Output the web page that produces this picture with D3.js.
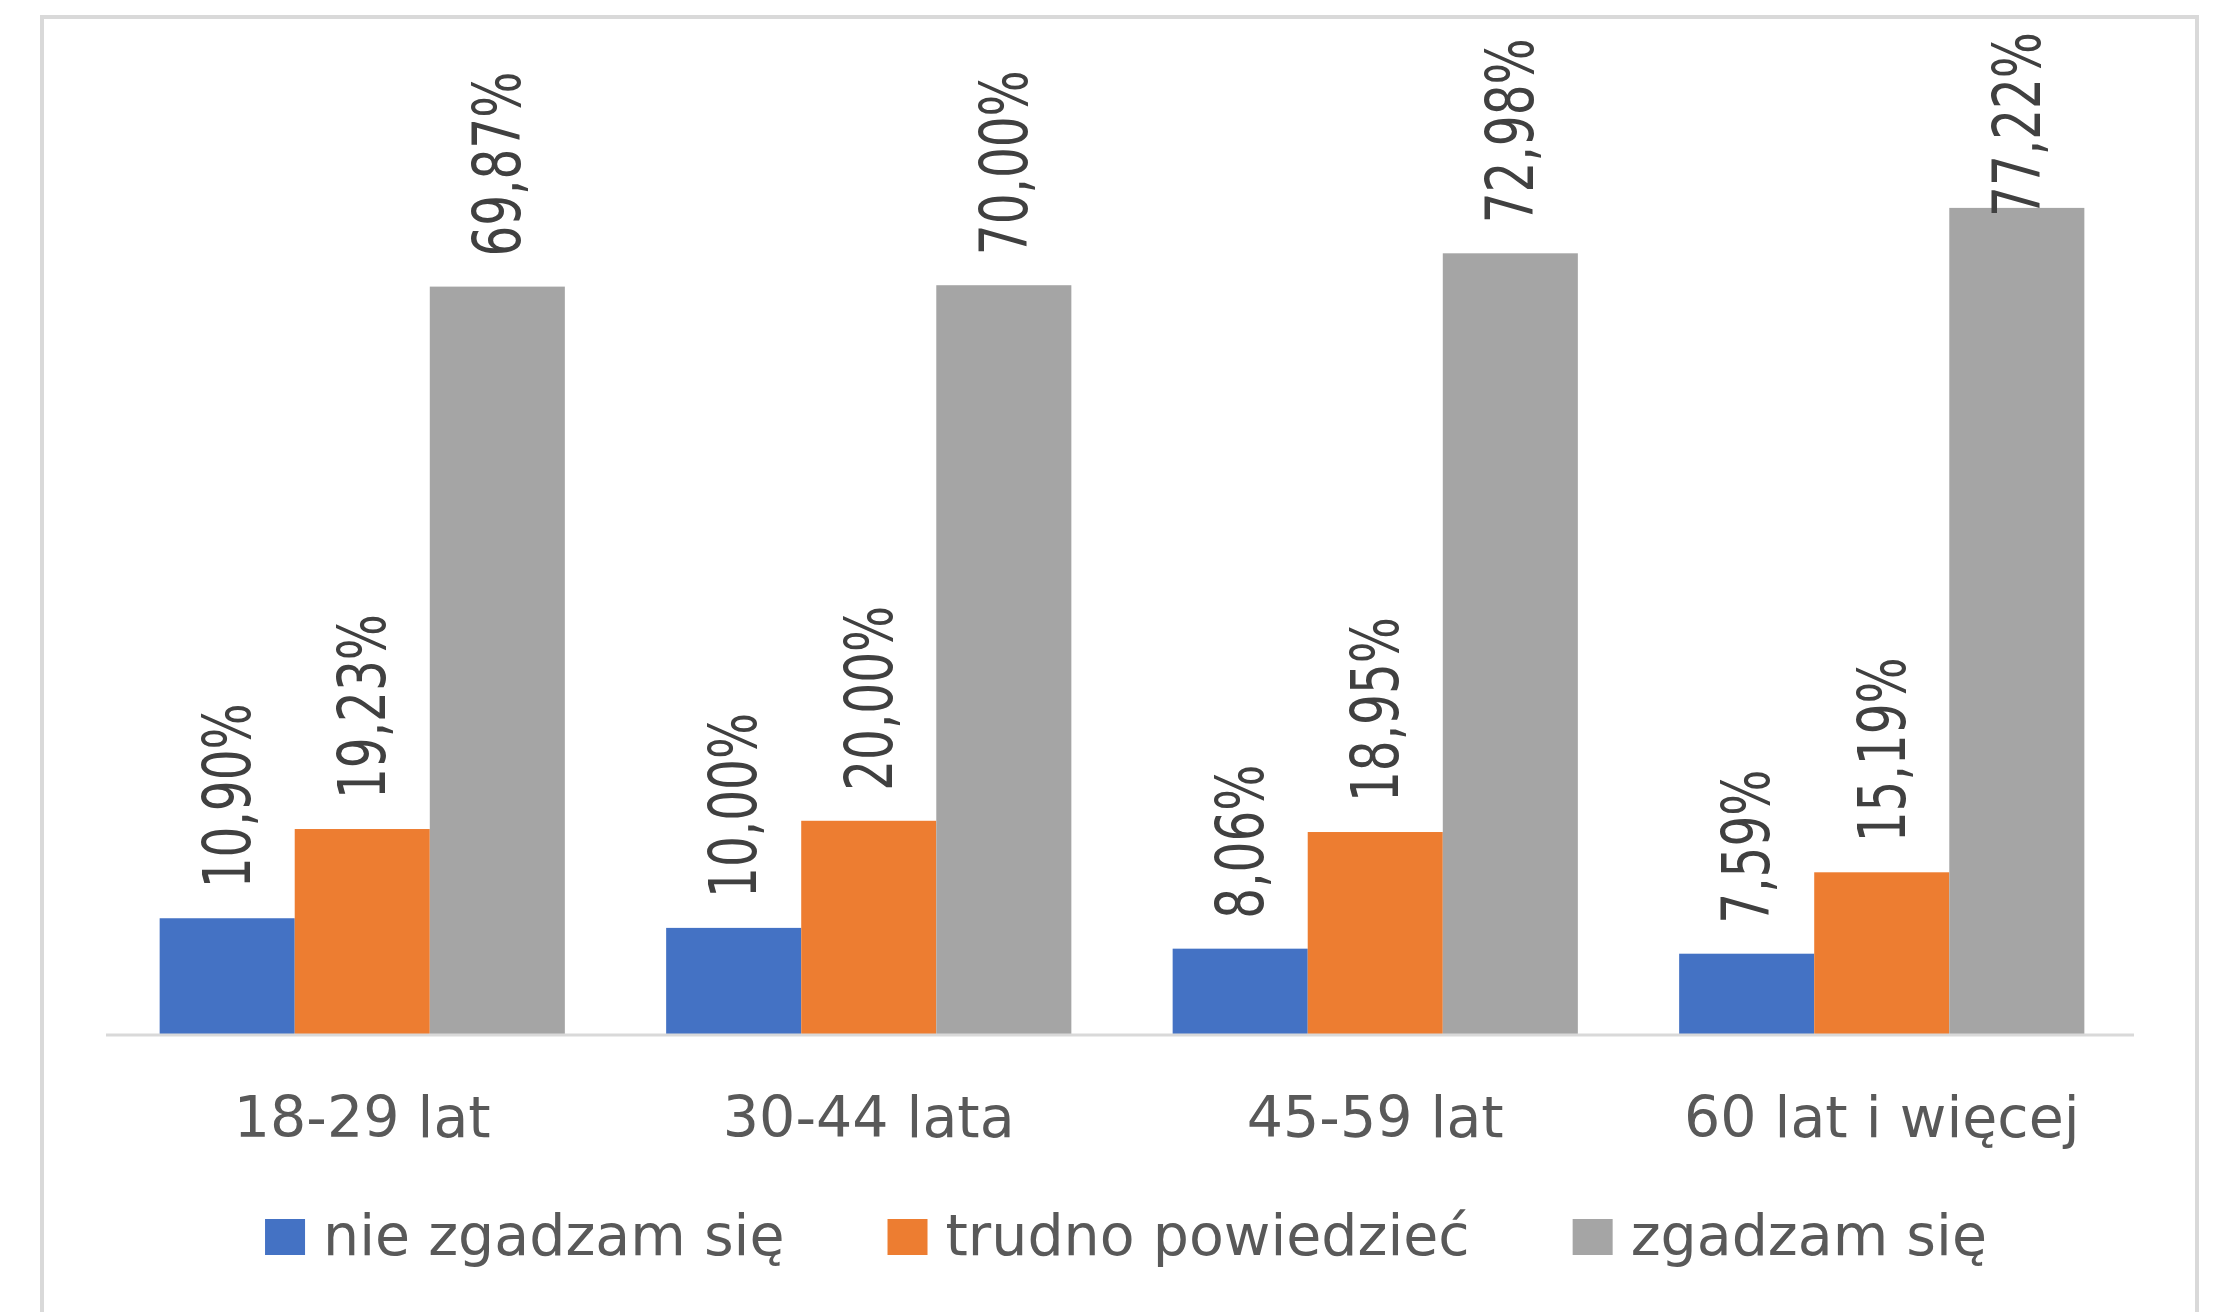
<!DOCTYPE html>
<html><head><meta charset="utf-8">
<script src="https://cdn.jsdelivr.net/npm/d3@7"></script>
<style>html,body{margin:0;padding:0;background:#fff;overflow:hidden}</style>
</head><body>
<script>
const categories = ["18-29 lat", "30-44 lata", "45-59 lat", "60 lat i więcej"];
const seriesNames = ["nie zgadzam się", "trudno powiedzieć", "zgadzam się"];
const nieZgadzam = [10.90, 10.00, 8.06, 7.59];
const trudno = [19.23, 20.00, 18.95, 15.19];
const zgadzam = [69.87, 70.00, 72.98, 77.22];
const colors = ["#4472C4", "#ED7D31", "#A5A5A5"];

const W = 2223, H = 1312;
const svg = d3.select("body").append("svg").attr("width", W).attr("height", H);

// outer chart border
svg.append("rect").attr("x", 42).attr("y", 17).attr("width", 2155).attr("height", 1400)
  .attr("fill", "none").attr("stroke", "#d9d9d9").attr("stroke-width", 4);

const plotLeft = 106, plotRight = 2134, baseY = 1035, topY = 71;
const x0 = d3.scaleBand().domain(categories).range([plotLeft + 3, plotRight + 1]).paddingInner(0.2).paddingOuter(0.1);
const x1 = d3.scaleBand().domain(seriesNames).range([0, x0.bandwidth()]);
const y = d3.scaleLinear().domain([0, 90]).range([baseY, topY]);

const series = [nieZgadzam, trudno, zgadzam];
const data = [];
categories.forEach((c, i) => series.forEach((s, j) => data.push({cat: c, ser: seriesNames[j], v: s[i], j})));

svg.append("g").selectAll("rect").data(data).join("rect")
  .attr("x", d => x0(d.cat) + x1(d.ser))
  .attr("y", d => y(d.v))
  .attr("width", x1.bandwidth())
  .attr("height", d => baseY - y(d.v))
  .attr("fill", d => colors[d.j]);

// baseline axis
const xAxis = d3.axisBottom(x0).tickSize(0).tickPadding(0);
const ax = svg.append("g").attr("transform", `translate(0,${baseY})`).call(xAxis);
ax.select(".domain").attr("stroke", "#d9d9d9").attr("stroke-width", 3).attr("d", `M${plotLeft},0H${plotRight}`);
ax.selectAll(".tick text").attr("y", 102).attr("dy", null)
  .attr("font-family", "DejaVu Sans").attr("font-size", 57).attr("fill", "#595959");

// data labels (rotated)
const fmt = v => v.toFixed(2).replace(".", ",") + "%";
const labelFont = 48.5, labelGap = 30, labelTopLimit = 32;
svg.append("g").selectAll("text").data(data).join("text")
  .text(d => fmt(d.v))
  .attr("font-family", "DejaVu Sans").attr("font-size", labelFont).attr("fill", "#404040")
  .attr("dominant-baseline", "central")
  .each(function(d) {
    const len = this.getComputedTextLength();
    let end = y(d.v) - labelGap;
    if (end - len < labelTopLimit) end = labelTopLimit + len;
    const cx = x0(d.cat) + x1(d.ser) + x1.bandwidth() / 2;
    d3.select(this).attr("transform", `translate(${cx},${end}) rotate(-90) scale(1,1.36)`);
  });

// legend
const legend = svg.append("g");
const items = legend.selectAll("g").data(seriesNames).join("g");
items.append("rect").attr("width", 40).attr("height", 36).attr("y", -36).attr("fill", (d, i) => colors[i]);
items.append("text").text(d => d).attr("x", 58).attr("y", 0)
  .attr("font-family", "DejaVu Sans").attr("font-size", 57).attr("fill", "#595959");
let lx = 0;
const widths = [];
items.each(function() { widths.push(58 + d3.select(this).select("text").node().getComputedTextLength()); });
const gapItems = 103;
const total = d3.sum(widths) + gapItems * (widths.length - 1);
lx = (plotLeft + plotRight) / 2 + 6 - total / 2;
items.each(function(d, i) {
  d3.select(this).attr("transform", `translate(${lx},1255)`);
  lx += widths[i] + gapItems;
});
</script>
</body></html>
